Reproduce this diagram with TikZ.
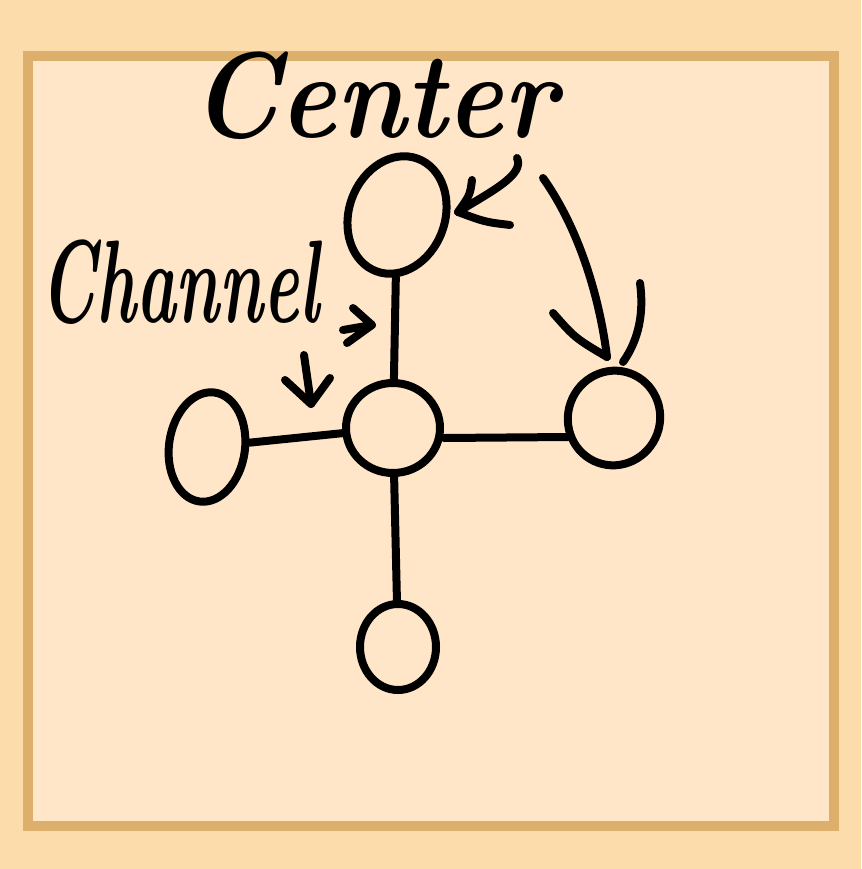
\documentclass[tikz,border=0pt]{standalone}
\usepackage{fontspec}
\setmainfont{Latin Modern Roman}
\usetikzlibrary{shapes.geometric}
\definecolor{outerbg}{HTML}{FDDCAB}
\definecolor{framec}{HTML}{DCAF6C}
\definecolor{innerbg}{HTML}{FFE6C9}
\tikzset{
  ink/.style={line width=8pt, line cap=round, line join=round, black},
  blob/.style={ellipse, draw=black, line width=8pt, inner sep=0pt},
  handtext/.style={inner sep=0pt, anchor=base, font=\fontsize{84}{90}\selectfont\bfseries\itshape}
}
\begin{document}
\begin{tikzpicture}[x=1pt,y=-1pt]
\useasboundingbox (0,0) rectangle (861,869);
\fill[outerbg] (0,0) rectangle (861,869);
\draw[framec, fill=innerbg, line width=10pt] (28,56) rectangle (834,826);

\node[blob, minimum width=96pt, minimum height=120pt, rotate=-20] (top) at (397,215) {};
\node[blob, minimum width=94pt, minimum height=90pt] (mid) at (393,428) {};
\node[blob, minimum width=76pt, minimum height=110pt, rotate=-8] (left) at (207,447) {};
\node[blob, minimum width=92pt, minimum height=95pt, rotate=-20] (right) at (614,418) {};
\node[blob, minimum width=76pt, minimum height=86pt] (bot) at (398,647) {};

\draw[ink] (top) -- (mid);
\draw[ink] (left) -- (mid);
\draw[ink] ([yshift=-10pt]mid.east) -- ([xshift=-46pt,yshift=-19pt]right.center);
\draw[ink] (mid) -- (bot);

\node[handtext, xscale=1.27, yscale=1.45] (ctext) at (374,138) {Center};
\node[handtext, xscale=0.8, yscale=1.4] (chtext) at (180,322) {Channel};

% arrow to top circle
\coordinate (a1s) at (517,158);
\coordinate (a1e) at (458,212);
\draw[ink] (a1s) .. controls (525,175) and (490,192) .. (a1e);
\draw[ink] (472,180) .. controls (470,195) .. (a1e) .. controls (485,222) .. (510,225);
% arrow to right circle
\coordinate (a2s) at (543,178);
\coordinate (a2e) at (607,357);
\draw[ink] (a2s) .. controls (580,230) and (600,300) .. (a2e);
\draw[ink] (553,313) .. controls (575,338) .. (a2e);
\draw[ink] (640,283) .. controls (645,320) and (635,345) .. (623,362);
% channel right arrow
\coordinate (a3s) at (343,330);
\coordinate (a3e) at (372,325);
\draw[ink] (a3s) -- (a3e);
\draw[ink] (353,308) -- (a3e) -- (347,343);
% channel down arrow
\coordinate (a4s) at (304,355);
\coordinate (a4e) at (311,404);
\draw[ink] (a4s) -- (a4e);
\draw[ink] (285,380) -- (a4e) -- (330,378);
\end{tikzpicture}
\end{document}
